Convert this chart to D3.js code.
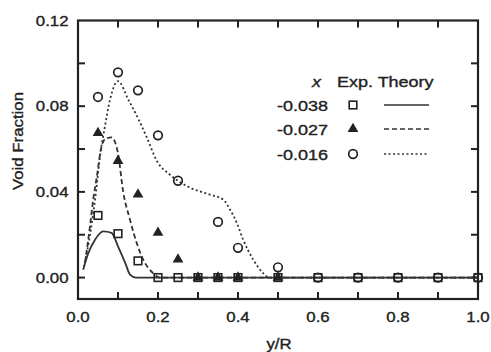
<!DOCTYPE html>
<html><head><meta charset="utf-8">
<script src="https://cdn.jsdelivr.net/npm/d3@7"></script>
<style>
html,body{margin:0;padding:0;background:#fff;}
svg{display:block;}
text{font-family:"Liberation Sans",Arial,sans-serif;fill:#222;stroke:#222;stroke-width:0.35px;}
</style></head>
<body>
<svg id="c" width="491" height="352"></svg>
<script>
// ---- data ----
const seriesLabels = ["-0.038", "-0.027", "-0.016"];
const sqX = [0.05,0.1,0.15,0.2,0.25,0.3,0.35,0.4,0.5,0.6,0.7,0.8,0.9,1.0];
const sqY = [0.029,0.0205,0.0078,0,0,0,0,0,0,0,0,0,0,0];
const triX = [0.05,0.1,0.15,0.2,0.25,0.3,0.35,0.4,0.5];
const triY = [0.0675,0.0545,0.0388,0.021,0.0085,0,0,0,0];
const circX = [0.05,0.1,0.15,0.2,0.25,0.35,0.4,0.5,0.6,0.7,0.8,0.9,1.0];
const circY = [0.0843,0.0958,0.0874,0.0664,0.0452,0.026,0.0139,0.0048,0,0,0,0,0];
const solidX = [0.013,0.025,0.0425,0.063,0.084,0.1,0.118,0.13,0.145,1.0];
const solidY = [0.0037,0.011,0.0177,0.0216,0.0209,0.0146,0.0069,0.0014,0,0];
const dashX = [0.0175,0.03,0.038,0.047,0.059,0.07,0.084,0.1,0.113,0.13,0.147,0.163,0.188,0.205,1.0];
const dashY = [0.007,0.024,0.0364,0.047,0.0614,0.065,0.0654,0.058,0.04,0.027,0.016,0.0084,0.002,0,0];
const dotX = [0.015,0.03,0.045,0.055,0.0675,0.08,0.1,0.126,0.151,0.172,0.197,0.23,0.28,0.33,0.363,0.38,0.397,0.413,0.438,0.463,0.478,1.0];
const dotY = [0.005,0.02,0.04,0.0567,0.0707,0.083,0.0917,0.083,0.074,0.0654,0.0545,0.048,0.042,0.0387,0.0364,0.0318,0.0255,0.0177,0.0084,0.002,0,0];
const xTickLabels = [0, 0.2, 0.4, 0.6, 0.8, 1.0];
const yTickLabels = [0, 0.04, 0.08, 0.12];
const xTicks = [0.1,0.2,0.3,0.4,0.5,0.6,0.7,0.8,0.9];
const yTicks = [0,0.02,0.04,0.06,0.08,0.10];

// ---- layout ----
const L = 78, R = 478, T = 20.5, B = 299;
const SX = 1.2; // horizontal stretch of text in the scan
const ink = "#222";
const svg = d3.select("#c");
const x = d3.scaleLinear().domain([0, 1]).range([L, R]);
const y = d3.scaleLinear().domain([-0.01, 0.12]).range([B, T]);

function txt(g, px, py, s, size, anchor, opts = {}) {
  const t = g.append("text")
    .attr("transform", `translate(${px},${py}) rotate(${opts.rot||0}) scale(${SX},1)`)
    .attr("text-anchor", anchor)
    .attr("font-size", size)
    .text(s);
  if (opts.italic) t.attr("font-style", "italic");
  return t;
}

svg.append("rect").attr("x", L).attr("y", T).attr("width", R - L).attr("height", B - T)
  .attr("fill", "none").attr("stroke", ink).attr("stroke-width", 2.2);

// inward ticks on all four sides (drawn as rects)
const tickLen = 7, tw = 2;
const tg = svg.append("g").attr("fill", ink);
xTicks.forEach(v => {
  tg.append("rect").attr("x", x(v) - tw / 2).attr("y", B - tickLen).attr("width", tw).attr("height", tickLen);
  tg.append("rect").attr("x", x(v) - tw / 2).attr("y", T).attr("width", tw).attr("height", tickLen);
});
yTicks.forEach(v => {
  tg.append("rect").attr("x", L).attr("y", y(v) - tw / 2).attr("width", tickLen).attr("height", tw);
  tg.append("rect").attr("x", R - tickLen).attr("y", y(v) - tw / 2).attr("width", tickLen).attr("height", tw);
});

// tick labels
const lab = svg.append("g");
xTickLabels.forEach(v => txt(lab, x(v), 322, d3.format(".1f")(v), 14, "middle"));
yTickLabels.forEach(v => txt(lab, 68.5, y(v) + 5, d3.format(".2f")(v), 14, "end"));
txt(lab, 23, 141, "Void Fraction", 14, "middle", {rot: -90});
txt(lab, 279, 349, "y/R", 14, "middle");

// curves
const line = d3.line().x(d => x(d[0])).y(d => y(d[1])).curve(d3.curveMonotoneX);
const curves = [
  {xs: solidX, ys: solidY, dash: null},
  {xs: dashX, ys: dashY, dash: "5,3"},
  {xs: dotX, ys: dotY, dash: "2,2.5"}
];
const cg = svg.append("g").attr("fill", "none").attr("stroke", "#333").attr("stroke-width", 1.8);
curves.slice().reverse().forEach(c => {
  const p = cg.append("path").datum(c.xs.map((v, i) => [v, c.ys[i]])).attr("d", line);
  if (c.dash) p.attr("stroke-dasharray", c.dash);
});

// markers
const mk = svg.append("g");
function square(g, cx, cy) {
  g.append("rect").attr("x", cx - 3.8).attr("y", cy - 3.8).attr("width", 7.6).attr("height", 7.6)
    .attr("fill", "none").attr("stroke", ink).attr("stroke-width", 1.6);
}
const triSym = d3.symbol().type(d3.symbolTriangle).size(50);
function tri(g, cx, cy) {
  g.append("path").attr("d", triSym()).attr("transform", `translate(${cx},${cy})`).attr("fill", ink);
}
function circ(g, cx, cy) {
  g.append("circle").attr("cx", cx).attr("cy", cy).attr("r", 4.3)
    .attr("fill", "none").attr("stroke", ink).attr("stroke-width", 1.7);
}
sqX.forEach((v, i) => square(mk, x(v), y(sqY[i])));
triX.forEach((v, i) => tri(mk, x(v), y(triY[i])));
circX.forEach((v, i) => circ(mk, x(v), y(circY[i])));

// legend
const lg = svg.append("g");
txt(lg, 321, 87, "x", 15, "end", {italic: true});
txt(lg, 337, 87, "Exp. Theory", 15, "start");
const rowsY = [105, 129, 154];
const drawM = [square, tri, circ];
rowsY.forEach((ry, i) => {
  txt(lg, 328, ry + 5.5, seriesLabels[i], 15, "end");
  drawM[i](lg, 353, ry);
  const ln = lg.append("line").attr("x1", 384).attr("x2", 429).attr("y1", ry).attr("y2", ry)
    .attr("stroke", "#333").attr("stroke-width", 1.6);
  if (curves[i].dash) ln.attr("stroke-dasharray", curves[i].dash);
});
</script>
</body></html>
